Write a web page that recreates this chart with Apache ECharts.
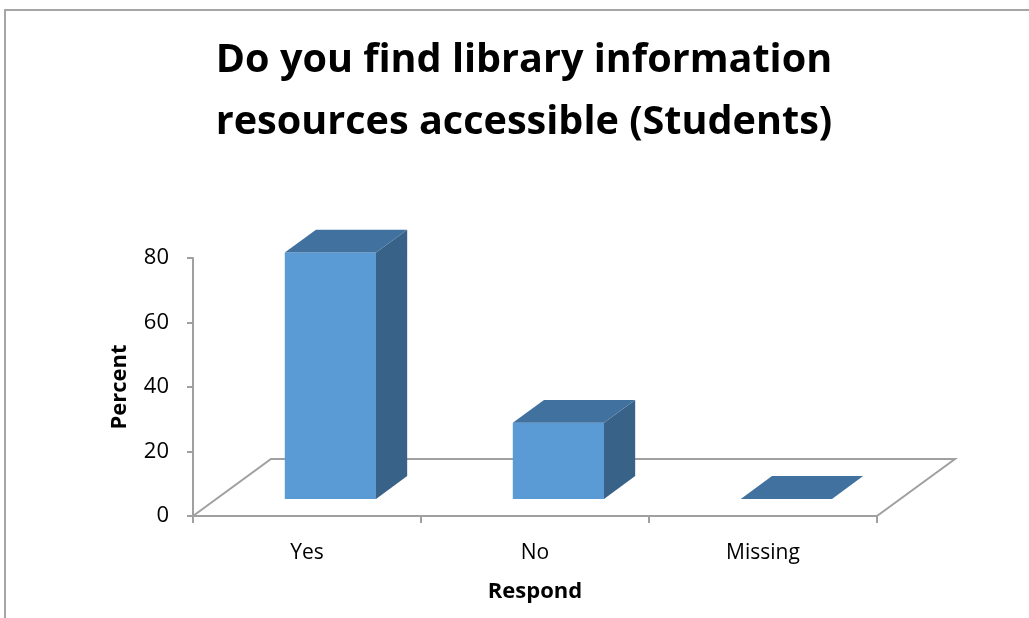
<!DOCTYPE html>
<html>
<head>
<meta charset="utf-8">
<title>Library information resources accessibility</title>
<script src="https://cdn.jsdelivr.net/npm/echarts@6/dist/echarts.min.js"></script>
<style>
  html, body { margin: 0; padding: 0; background: #ffffff; }
  #chart { width: 1029px; height: 618px; }
</style>
</head>
<body>
<div id="chart"></div>
<script>
// Survey responses (students), percent
const categories = ['Yes', 'No', 'Missing'];
const percentValues = [76.4, 23.6, 0.0];
const yTicks = { min: 0, max: 80, interval: 20 };

const titleLines = ['Do you find library information', 'resources accessible (Students)'];
const FONT = '"Open Sans", "Noto Sans", "Liberation Sans", sans-serif';

// Oblique 3D projection, expressed as fractions of one category band
const DEPTH_X = 0.342;   // floor depth, horizontal shift per band width
const DEPTH_Y = -0.25;   // floor depth, vertical shift per band width
const FRONT_AT = 0.30;   // depth position of a bar's front face
const BAR_DEPTH = 0.40;  // depth of a bar
const BAR_WIDTH = 0.40;  // bar width

const FRONT_COLOR = '#5b9bd5';
const TOP_COLOR = '#41729f';
const SIDE_COLOR = '#386287';
const AXIS_COLOR = '#a0a0a0';

const chart = echarts.init(document.getElementById('chart'), null, { renderer: 'canvas' });

// Floor outline: left, back and right edges (the front edge is the category axis line)
function renderFloor(params, api) {
  const cs = params.coordSys;
  const band = cs.width / categories.length;
  const dx = band * DEPTH_X, dy = band * DEPTH_Y;
  const x0 = cs.x, x1 = cs.x + cs.width, yb = cs.y + cs.height;
  return {
    type: 'polyline',
    silent: true,
    shape: { points: [[x0, yb], [x0 + dx, yb + dy], [x1 + dx, yb + dy], [x1, yb]] },
    style: { fill: null, stroke: AXIS_COLOR, lineWidth: 2 }
  };
}

// One box per category: side face, front face and top face
function renderBar(params, api) {
  const idx = api.value(0);
  const val = api.value(1);
  const base = api.coord([idx, 0]);
  const top = api.coord([idx, val]);
  const band = api.size([1, 0])[0];
  const ddx = band * DEPTH_X, ddy = band * DEPTH_Y;
  const ox = ddx * FRONT_AT, oy = ddy * FRONT_AT;
  const bx = ddx * BAR_DEPTH, by = ddy * BAR_DEPTH;
  const w = band * BAR_WIDTH;
  const xl = base[0] - w / 2 + ox, xr = xl + w;
  const yB = base[1] + oy, yT = top[1] + oy;
  return {
    type: 'group',
    children: [
      {
        type: 'polygon',
        shape: { points: [[xr, yT], [xr + bx, yT + by], [xr + bx, yB + by], [xr, yB]] },
        style: { fill: SIDE_COLOR }
      },
      {
        type: 'rect',
        shape: { x: xl, y: yT, width: w, height: yB - yT },
        style: { fill: FRONT_COLOR }
      },
      {
        type: 'polygon',
        shape: { points: [[xl, yT], [xl + bx, yT + by], [xr + bx, yT + by], [xr, yT]] },
        style: { fill: TOP_COLOR }
      }
    ]
  };
}

const option = {
  backgroundColor: '#ffffff',
  animation: false,
  graphic: [
    {
      type: 'rect',
      silent: true,
      shape: { x: 5, y: 10, width: 1200, height: 800 },
      style: { fill: null, stroke: '#a6a6a6', lineWidth: 2 }
    },
    {
      type: 'text',
      x: 524, y: 61,
      style: {
        text: titleLines[0], fill: '#000', textAlign: 'center', textVerticalAlign: 'middle',
        font: 'bold 39.6px ' + FONT
      }
    },
    {
      type: 'text',
      x: 524, y: 123,
      style: {
        text: titleLines[1], fill: '#000', textAlign: 'center', textVerticalAlign: 'middle',
        font: 'bold 39.6px ' + FONT
      }
    }
  ],
  grid: { left: 193, top: 258, right: 152, bottom: 102, containLabel: false },
  xAxis: {
    type: 'category',
    data: categories,
    boundaryGap: true,
    name: 'Respond',
    nameLocation: 'middle',
    nameGap: 65,
    nameTextStyle: { fontFamily: FONT, fontSize: 22, fontWeight: 'bold', color: '#000' },
    axisLine: { show: true, lineStyle: { color: AXIS_COLOR, width: 2 } },
    axisTick: { show: true, length: 7, lineStyle: { color: AXIS_COLOR, width: 2 } },
    axisLabel: { fontFamily: FONT, fontSize: 21, color: '#000', margin: 27 },
    splitLine: { show: false }
  },
  yAxis: {
    type: 'value',
    min: yTicks.min, max: yTicks.max, interval: yTicks.interval,
    name: 'Percent',
    nameLocation: 'middle',
    nameRotate: 90,
    nameGap: 62,
    nameTextStyle: { fontFamily: FONT, fontSize: 22, fontWeight: 'bold', color: '#000' },
    axisLine: { show: true, lineStyle: { color: AXIS_COLOR, width: 2 } },
    axisTick: { show: true, length: 6, lineStyle: { color: AXIS_COLOR, width: 2 } },
    axisLabel: { fontFamily: FONT, fontSize: 22, color: '#000', margin: 24 },
    splitLine: { show: false }
  },
  series: [
    {
      type: 'custom',
      name: 'floor',
      renderItem: renderFloor,
      data: [[0, 0]],
      silent: true,
      z: 1
    },
    {
      type: 'custom',
      name: 'Percent',
      renderItem: renderBar,
      data: categories.map((c, i) => [i, percentValues[i]]),
      encode: { x: 0, y: 1 },
      z: 3
    }
  ]
};

chart.setOption(option);
</script>
</body>
</html>
